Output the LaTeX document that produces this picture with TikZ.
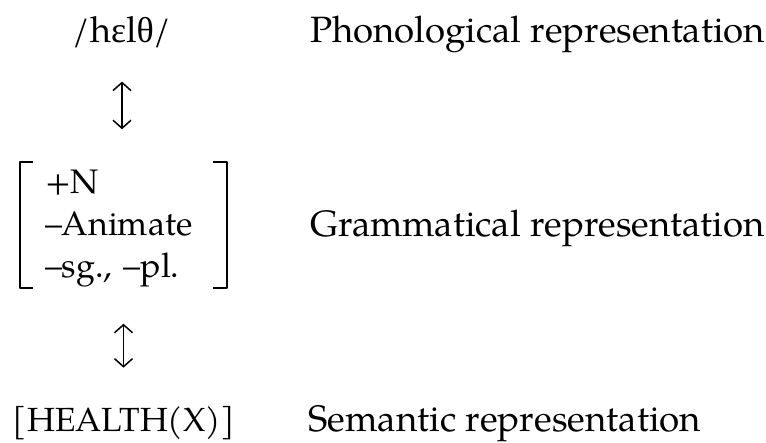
\documentclass[tikz,border=0pt]{standalone}
\usepackage{fontspec}
\setmainfont{texgyrepagella-regular.otf}
\newfontfamily\ipafont{Liberation Serif}
\newcommand\fsz[1]{\fontsize{#1}{42}\selectfont}
\usetikzlibrary{arrows.meta}
\begin{document}
\begin{tikzpicture}[x=1pt,y=-1pt,>={Straight Barb[length=8pt,width=18pt]},line join=round,font=\fsz{36.6}, 
	txt/.style={inner sep=0pt},
	lvl/.style={inner sep=0pt,anchor=base west},
	brk/.style={line width=2.2pt},
	updown/.style={<->,line width=1.5pt}]
	\useasboundingbox (0,0) rectangle (766,443);
	% left column
	\node[txt,font=\fsz{36},anchor=base] (phon) at (122,43) {/h{\ipafont ɛ}l{\ipafont θ}/};
	\node[txt,font=\fsz{34},text width=157pt,inner xsep=25pt,text height=31.5pt,minimum height=124pt,align=left] (feat) at (123.5,225)
		{+N\\–Animate\\–sg., –pl.};
	\node[txt,font=\fsz{33.5},anchor=base] (sem) at (124,432) {[HEALTH(X)]};
	\draw[brk] ([xshift=13pt]feat.north west) -- (feat.north west) -- (feat.south west) -- ++(13,0);
	\draw[brk] ([xshift=-14pt]feat.north east) -- (feat.north east) -- (feat.south east) -- ++(-14,0);
	\draw[updown,shorten <=33pt,shorten >=33pt] (phon.south) -- (phon.south |- feat.north);
	\draw[updown,shorten <=36pt,shorten >=39pt] (feat.south) -- (feat.south |- sem.north);
	% right column
	\node[lvl] (phonlbl) at (310,43) {Phonological representation};
	\node[lvl] (gramlbl) at (310,237) {Grammatical representation};
	\node[lvl,font=\fsz{36.8}] (semlbl) at (308,432) {Semantic representation};
\end{tikzpicture}
\end{document}
